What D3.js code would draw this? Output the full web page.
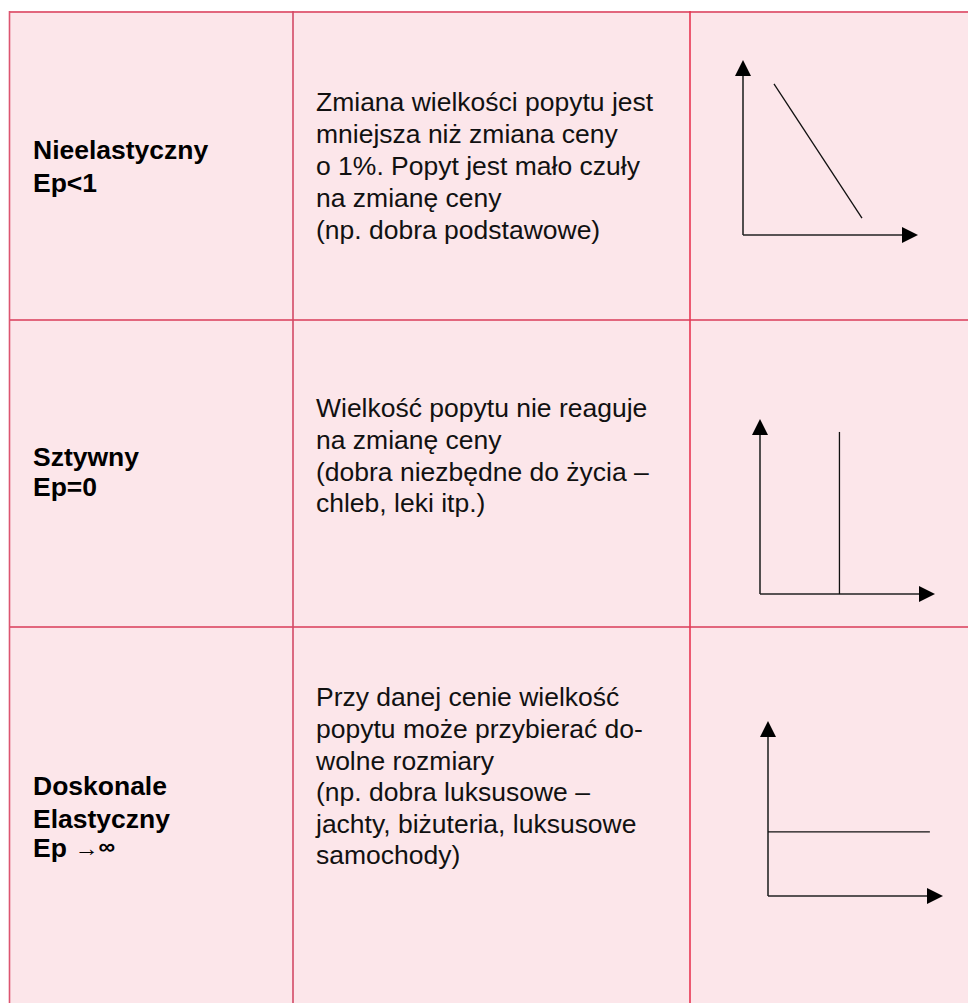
<!DOCTYPE html>
<html><head><meta charset="utf-8">
<script src="https://cdn.jsdelivr.net/npm/d3@7"></script>
<style>html,body{margin:0;padding:0;background:#fff;}svg{display:block;}</style>
</head><body>
<svg id="c" width="968" height="1003"></svg>
<script>
// ---- data ----
const labels = [
  ["Nieelastyczny", "Ep<1"],
  ["Sztywny", "Ep=0"],
  ["Doskonale", "Elastyczny", "Ep \u2192\u221E"]
];
const descriptions = [
  ["Zmiana wielkości popytu jest", "mniejsza niż zmiana ceny", "o 1%. Popyt jest mało czuły", "na zmianę ceny", "(np. dobra podstawowe)"],
  ["Wielkość popytu nie reaguje", "na zmianę ceny", "(dobra niezbędne do życia –", "chleb, leki itp.)"],
  ["Przy danej cenie wielkość", "popytu może przybierać do-", "wolne rozmiary", "(np. dobra luksusowe –", "jachty, biżuteria, luksusowe", "samochody)"]
];
// demand curves in normalized axis units (x: quantity, y: price)
const curveInelastic = [[0.177, 0.864], [0.68, 0.097]];
const curveRigid = [[0.454, 0.0], [0.454, 0.926]];
const curvePerfect = [[0.0, 0.366], [0.925, 0.366]];
const curves = [curveInelastic, curveRigid, curvePerfect];

// ---- layout ----
const svg = d3.select("#c");
const W = 968, H = 1003;
const tableLeft = 9.5, tableTop = 12;
const colX = [tableLeft, 293, 690, W];
const rowY = [tableTop, 320, 627, H + 50];
const bg = "#fce6ea";

svg.append("rect").attr("x", tableLeft).attr("y", tableTop)
  .attr("width", W - tableLeft).attr("height", H - tableTop).attr("fill", bg);

// grid lines
const hLines = rowY.slice(0, 3);
svg.selectAll("line.h").data(hLines).join("line").attr("class", "h")
  .attr("x1", tableLeft).attr("x2", W).attr("y1", d => d).attr("y2", d => d)
  .attr("stroke", "#e2667d").attr("stroke-width", 2);
const vLines = [{x: tableLeft, c: "#dc5570"}, {x: colX[1], c: "#d24a66"}, {x: colX[2], c: "#e83552"}];
svg.selectAll("line.v").data(vLines).join("line").attr("class", "v")
  .attr("x1", d => d.x).attr("x2", d => d.x).attr("y1", tableTop - 1).attr("y2", H)
  .attr("stroke", d => d.c).attr("stroke-width", 1.6);

const font = "'Liberation Sans', Arial, Helvetica, sans-serif";
const sx = 1.06, fs = 25;

// label baselines per row
const labelBase = [[158.5, 192], [466, 496], [795, 828, 857]];
const descBase = [
  [111, 143, 175, 207, 238.5],
  [417, 449, 480.5, 512],
  [706, 738, 769.5, 801, 833, 864]
];

labels.forEach((lines, r) => {
  lines.forEach((t, i) => {
    const tx = svg.append("text")
      .attr("transform", `translate(33,${labelBase[r][i]}) scale(${sx},1)`)
      .attr("font-family", font).attr("font-size", fs).attr("font-weight", "bold")
      .attr("fill", "#000");
    if (t.indexOf("\u2192") >= 0) {
      const parts = t.split(" ");
      tx.append("tspan").text(parts[0] + " ");
      tx.append("tspan").attr("font-weight", "normal").attr("font-size", 23).attr("dy", -1).text("\u2192");
      tx.append("tspan").attr("font-size", 22).attr("dy", -2).text("\u221E");
    } else {
      tx.text(t);
    }
  });
});

descriptions.forEach((lines, r) => {
  lines.forEach((t, i) => {
    svg.append("text")
      .attr("transform", `translate(316,${descBase[r][i]}) scale(${sx},1)`)
      .attr("font-family", font).attr("font-size", fs).attr("fill", "#111")
      .text(t);
  });
});

// mini charts
const origins = [[743, 235], [760, 594], [768, 896]];
const axLen = 175;
origins.forEach(([ox, oy], r) => {
  const x = d3.scaleLinear().domain([0, 1]).range([ox, ox + axLen]);
  const y = d3.scaleLinear().domain([0, 1]).range([oy, oy - axLen]);
  const g = svg.append("g");
  const ah = 16, aw = 8;
  // y-axis
  g.append("line").attr("x1", x(0)).attr("x2", x(0)).attr("y1", y(0)).attr("y2", y(1) + ah - 1)
    .attr("stroke", "#333").attr("stroke-width", 1.7);
  g.append("path").attr("d", `M${x(0)},${y(1)} L${x(0) - aw},${y(1) + ah} L${x(0) + aw},${y(1) + ah} Z`)
    .attr("fill", "#000");
  // x-axis
  g.append("line").attr("x1", x(0)).attr("x2", x(1) - ah + 1).attr("y1", y(0)).attr("y2", y(0))
    .attr("stroke", "#222").attr("stroke-width", 1.7);
  g.append("path").attr("d", `M${x(1)},${y(0)} L${x(1) - ah},${y(0) - aw} L${x(1) - ah},${y(0) + aw} Z`)
    .attr("fill", "#000");
  // curve
  const line = d3.line().x(d => x(d[0])).y(d => y(d[1]));
  g.append("path").attr("d", line(curves[r])).attr("fill", "none")
    .attr("stroke", "#111").attr("stroke-width", 1.3);
});
</script>
</body></html>
